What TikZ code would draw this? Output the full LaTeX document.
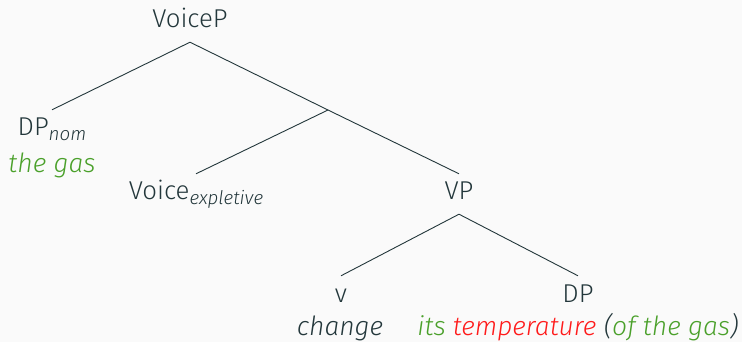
\documentclass[tikz,border=0pt]{standalone}
\usepackage{fontspec}
\setmainfont{Fira Sans}[UprightFont={* Light}, ItalicFont={* Light Italic}]
\usetikzlibrary{positioning}
\definecolor{mt-dark}{HTML}{23373B}
\definecolor{mt-bg}{HTML}{FAFAFA}
\definecolor{gas-green}{HTML}{4AA02A}
\definecolor{temp-red}{HTML}{FF1A1A}
\newcommand{\catsub}[1]{\raisebox{-0.3ex}{\fontsize{18.8}{20}\selectfont\itshape #1}}
\tikzset{
  cat/.style={anchor=base, text=mt-dark, font=\fontsize{25.8}{30}\selectfont,
    text height=18pt, text depth=6pt, inner xsep=0pt, inner ysep=8pt},
  gloss/.style={anchor=base, text=mt-dark, font=\fontsize{26.4}{30}\selectfont\itshape, inner sep=0pt},
  branch/.style={draw=mt-dark, line width=0.9pt},
}
\begin{document}
\begin{tikzpicture}[x=1pt, y=-1pt]
  \useasboundingbox[fill=mt-bg] (0,0) rectangle (742,342);

  % categories
  \node[cat] (voicep) at (190,28) {VoiceP};
  \coordinate (voicebar) at (328,110);
  \node[cat] (dpnom) at (52,136) {DP\catsub{nom}};
  \node[cat] (voice) at (196,200) {Voice\catsub{expletive}};
  \node[cat] (vp) at (459,200) {VP};
  \node[cat] (v) at (341,302) {v};
  \node[cat] (dp) at (578,302) {DP};

  % words
  \node[gloss, text=gas-green] (dpnom-w) at (52,172) {the gas};
  \node[gloss] (v-w) at (340,335) {change};
  \node[gloss] (dp-w) at (578,335) {\textcolor{gas-green}{its} \textcolor{temp-red}{temperature} (\textcolor{gas-green}{of the gas})};

  % branches
  \draw[branch] (voicep.south) -- (dpnom.north);
  \draw[branch] (voicep.south) -- (voicebar) -- (vp.north);
  \draw[branch] (voicebar) -- (voice.north);
  \draw[branch] (vp.south) -- (v.north);
  \draw[branch] (vp.south) -- (dp.north);
\end{tikzpicture}
\end{document}
